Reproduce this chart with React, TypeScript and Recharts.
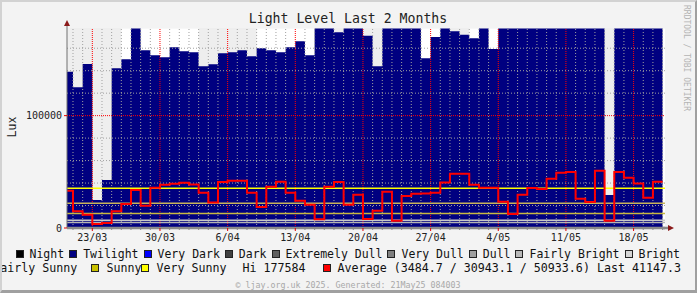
import React from 'react';
import {
  ComposedChart,
  Area,
  Line,
  XAxis,
  YAxis,
  CartesianGrid,
  ReferenceLine
} from 'recharts';

const MONO = "'DejaVu Sans Mono', monospace";
const HI = 177584;

// one value per day, index 0 is the partial day 20/03, then 21/03 .. 20/05
const firstDay = -1;
const twilight = [
  139000, 125300, 146000, 24900, 42700, 142200, 150200, HI, 158200, 153800,
  152000, 160900, 157400, 156500, 144000, 145800, 155600, 156500, 158200, 152900,
  160000, 158200, 156500, 160900, 166200, 153800, HI, HI, 174300, HI,
  HI, 171000, 144000, HI, HI, HI, HI, 151100, 170100, HI,
  175100, 171900, 168900, HI, 159400, HI, HI, HI, HI, HI,
  HI, HI, HI, HI, HI, HI, 29300, HI, HI, HI,
  HI, HI
];
const average = [
  33200, 14800, 11800, 3485, 4400, 14800, 21300, 33800, 19800, 35800,
  38500, 39400, 40300, 38800, 31400, 22800, 40900, 42100, 42100, 31400,
  18700, 36700, 41200, 31400, 24300, 20700, 7700, 36700, 40900, 20700,
  29600, 8000, 15400, 32300, 6500, 28400, 30500, 30800, 31400, 40600,
  48300, 48300, 38500, 35800, 35800, 23400, 12400, 29600, 35600, 34700,
  43800, 49200, 49800, 26000, 23100, 50934, 6500, 49900, 44700, 39700,
  26900, 41147.3
];
// days whose daily peak band is shown in white
const hiDays = [5, 7, 8, 9, 10, 11, 12, 19, 20, 21, 22, 23, 24, 36, 37, 41, 43, 61];

const weekStarts = [2, 9, 16, 23, 30, 37, 44, 51, 58];
const weekLabels = ['23/03', '30/03', '6/04', '13/04', '20/04', '27/04', '4/05', '11/05', '18/05'];

const yTicks = [0, 100000];
const yGrid = [20000, 40000, 60000, 80000, 100000, 120000, 140000, 160000];

const thresholds = [35300, 22000, 13000, 6800, 5000];
const thresholdColors = ['#ffff00', '#c8b45a', '#c8b840', '#c8c8c8', '#b4b4b4'];

const legendNames = ['Night', 'Twilight', 'Very Dark', 'Dark', 'Extremely Dull', 'Very Dull', 'Dull', 'Fairly Bright', 'Bright'];
const legendColors = ['#000000', '#000080', '#0000ff', '#404040', '#606060', '#808080', '#a0a0a0', '#b8b8b8', '#d4d4d4'];

const dayCount = twilight.length;
const data: any[] = twilight.map((v, i) => {
  const d = firstDay + i;
  return { d, twilight: v, hi: hiDays.includes(d) ? HI : 0, avg: average[i] };
});
const lastDay = firstDay + dayCount;
data.push({ d: lastDay, twilight: 0, hi: HI, avg: average[dayCount - 1] });
data.push({ d: lastDay + 0.25, twilight: 0, hi: HI, avg: null });

const dayLines = Array.from({ length: lastDay + 1 }, (_, i) => i);

const DayTick = (props: any) => {
  const { x, y, payload } = props;
  const k = weekStarts.indexOf(payload.value);
  if (k < 0) {
    return <line x1={x} x2={x} y1={y} y2={y + 2} stroke="#8a8a8a" />;
  }
  return (
    <g>
      <line x1={x} x2={x} y1={y} y2={y + 3} stroke="#e00000" />
      <text x={x} y={y + 12.5} textAnchor="middle" fontSize={10} fontFamily={MONO} fill="#222">
        {weekLabels[k]}
      </text>
    </g>
  );
};

const Box = ({ color, ml = 0, mr = 6 }: { color: string; ml?: number; mr?: number }) => (
  <span
    style={{
      display: 'inline-block',
      width: 8,
      height: 8,
      boxSizing: 'border-box',
      border: '1px solid #222',
      background: color,
      marginLeft: ml,
      marginRight: mr
    }}
  />
);

const App: React.FC = () => {
  const rowStyle: React.CSSProperties = {
    position: 'absolute',
    display: 'flex',
    alignItems: 'center',
    whiteSpace: 'pre',
    fontFamily: MONO,
    fontSize: 11.5,
    lineHeight: '14px',
    color: '#111'
  };

  return (
    <div
      style={{
        position: 'absolute',
        left: 0,
        top: 0,
        width: 697,
        height: 293,
        background: '#f3f3f3',
        overflow: 'hidden'
      }}
    >
      <ComposedChart
        width={697}
        height={293}
        data={data}
        margin={{ top: 28, right: 32, bottom: 35, left: 7 }}
      >
        <CartesianGrid fill="#eeeeee" horizontal={false} vertical={false} />
        <XAxis
          type="number"
          dataKey="d"
          domain={[-0.62, lastDay + 0.25]}
          allowDataOverflow
          ticks={dayLines}
          interval={0}
          height={30}
          tickSize={0}
          tickMargin={0}
          tick={<DayTick />}
          axisLine={{ stroke: '#8a8a8a', strokeWidth: 2.5 }}
        />
        <YAxis
          type="number"
          domain={[0, 178000]}
          allowDataOverflow
          ticks={yTicks}
          width={60}
          tickSize={3}
          tickMargin={2}
          tick={{ fontSize: 10, fill: '#222', fontFamily: MONO }}
          tickLine={{ stroke: '#e00000' }}
          axisLine={{ stroke: '#707070' }}
        />
        <Area
          type="stepAfter"
          dataKey="hi"
          stroke="none"
          fill="#ffffff"
          fillOpacity={1}
          isAnimationActive={false}
        />
        <Area
          type="stepAfter"
          dataKey="twilight"
          stroke="none"
          fill="#000080"
          fillOpacity={1}
          isAnimationActive={false}
        />
        {dayLines.map((d) => (
          <ReferenceLine
            key={'v' + d}
            x={d}
            stroke={weekStarts.includes(d) ? '#ff0000' : '#a0a0a0'}
            strokeDasharray={weekStarts.includes(d) ? '1 1' : '1 2'}
          />
        ))}
        {yGrid.map((v) => (
          <ReferenceLine
            key={'h' + v}
            y={v}
            stroke={v === 100000 ? '#ff0000' : '#a0a0a0'}
            strokeDasharray={v === 100000 ? '1 1' : '1 2'}
          />
        ))}
        {thresholds.map((v, i) => (
          <ReferenceLine key={'t' + v} y={v} stroke={thresholdColors[i]} strokeWidth={1.5} />
        ))}
        <Line
          type="stepAfter"
          dataKey="avg"
          stroke="#ff0000"
          strokeWidth={2}
          dot={false}
          activeDot={false}
          isAnimationActive={false}
        />
      </ComposedChart>

      <svg
        width={697}
        height={293}
        style={{ position: 'absolute', left: 0, top: 0, pointerEvents: 'none' }}
      >
        <text x={348} y={23} textAnchor="middle" fontFamily={MONO} fontSize={13.2} fill="#222">
          Light Level Last 2 Months
        </text>
        <text
          transform="translate(15.5,127) rotate(-90)"
          textAnchor="middle"
          fontFamily={MONO}
          fontSize={11.5}
          fill="#222"
        >
          Lux
        </text>
        <text
          transform="translate(684,5) rotate(90)"
          fontFamily={MONO}
          fontSize={8}
          fill="#b4b4b4"
        >
          RRDTOOL / TOBI OETIKER
        </text>
        <text x={348} y={288} textAnchor="middle" fontFamily={MONO} fontSize={8.3} fill="#a8a8a8">
          © ljay.org.uk 2025. Generated: 21May25 084003
        </text>
        <line x1={67} x2={67} y1={23} y2={28} stroke="#707070" />
        <polygon points="64,26 70,26 67,20" fill="#8b1a1a" />
        <line x1={663} x2={669} y1={228} y2={228} stroke="#8a8a8a" strokeWidth={2.5} />
        <polygon points="668,225 668,231 674,228" fill="#8b1a1a" />
      </svg>

      <div style={{ ...rowStyle, left: 15.5, top: 247 }}>
        {legendNames.map((n, i) => (
          <span key={n} style={{ display: 'inline-flex', alignItems: 'center', marginRight: 5 }}>
            <Box color={legendColors[i]} />
            {n}
          </span>
        ))}
      </div>

      <div
        style={{
          ...rowStyle,
          fontSize: 11.65,
          left: -300,
          right: 16,
          top: 261,
          justifyContent: 'flex-end'
        }}
      >
        <span>Fairly Sunny</span>
        <Box color="#c8c000" ml={14} mr={7} />
        <span>Sunny</span>
        <Box color="#ffff00" mr={7} />
        <span>Very Sunny</span>
        <span style={{ marginLeft: 16 }}>Hi 177584</span>
        <Box color="#ff0000" ml={17} mr={7} />
        <span>Average (3484.7 / 30943.1 / 50933.6) Last 41147.3</span>
      </div>

      <div
        style={{
          position: 'absolute',
          left: 0,
          top: 0,
          width: 697,
          height: 293,
          boxSizing: 'border-box',
          borderTop: '2px solid #d2d2d2',
          borderLeft: '2px solid #d2d2d2',
          borderRight: '2px solid #a0a0a0',
          borderBottom: '3px solid #a0a0a0',
          pointerEvents: 'none'
        }}
      />
    </div>
  );
};

export default App;
